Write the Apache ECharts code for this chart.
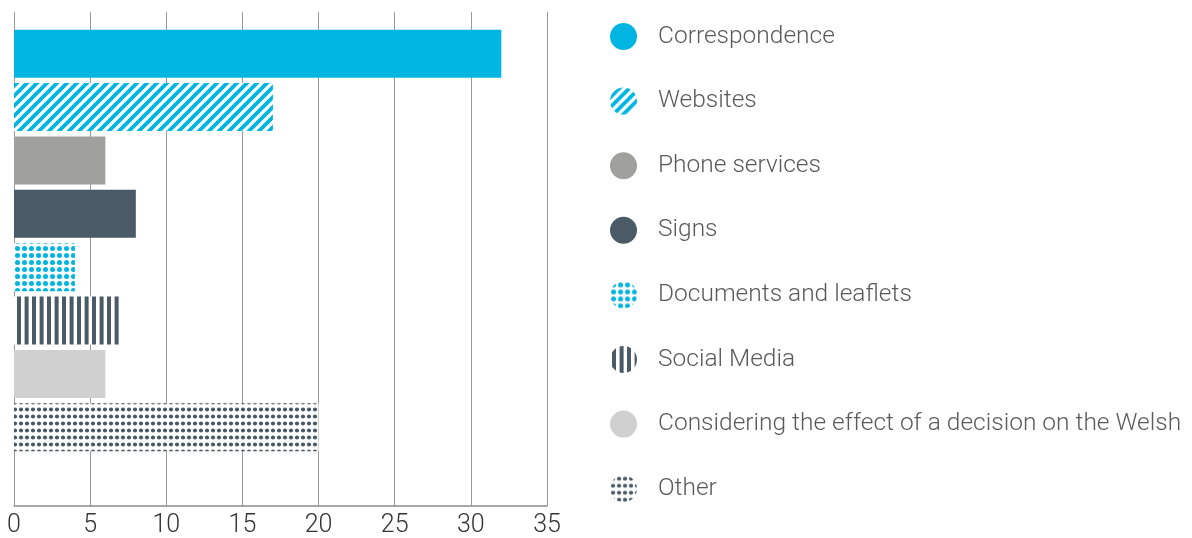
<!DOCTYPE html>
<html>
<head>
<meta charset="utf-8">
<script src="https://cdn.jsdelivr.net/npm/echarts@6/dist/echarts.min.js"></script>
<style>
    html, body { margin: 0; padding: 0; background: #fff; }
    #chart { width: 1192px; height: 538px; }
</style>
</head>
<body>
<div id="chart"></div>
<script>
var categories = ['Correspondence', 'Websites', 'Phone services', 'Signs', 'Documents and leaflets',
    'Social Media', 'Considering the effect of a decision on the Welsh', 'Other'];
var values = [32, 17, 6, 8, 4, 7, 6, 20];
var xTicks = [0, 5, 10, 15, 20, 25, 30, 35];

var CYAN = '#00b5e2';
var GREY = '#a0a09f';
var DARK = '#4a5a66';
var LIGHT = '#d0d0d0';

// small canvas tiles used as pattern fills
function makeTile(w, h, draw) {
    var c = document.createElement('canvas');
    c.width = w;
    c.height = h;
    var ctx = c.getContext('2d');
    ctx.fillStyle = '#fff';
    ctx.fillRect(0, 0, w, h);
    draw(ctx, w, h);
    return {image: c, repeat: 'repeat'};
}

var stripes = makeTile(10, 10, function (ctx, w, h) {
    ctx.strokeStyle = CYAN;
    ctx.lineWidth = 3.8;
    ctx.beginPath();
    for (var k = -1; k <= 1; k++) {
        ctx.moveTo(k * w - 2, h + 2);
        ctx.lineTo(k * w + w + 2, -2);
    }
    ctx.stroke();
});

var cyanDots = makeTile(7, 7, function (ctx) {
    ctx.fillStyle = CYAN;
    ctx.beginPath();
    ctx.arc(3.5, 3.5, 2.5, 0, Math.PI * 2);
    ctx.fill();
});

var bars = makeTile(15, 4, function (ctx) {
    ctx.fillStyle = DARK;
    ctx.fillRect(2, 0, 4, 4);
    ctx.fillRect(9.6, 0, 4, 4);
});

var darkDots = makeTile(6, 7, function (ctx) {
    ctx.fillStyle = DARK;
    ctx.beginPath();
    ctx.arc(3, 3.5, 2.1, 0, Math.PI * 2);
    ctx.fill();
});

var fills = [CYAN, stripes, GREY, DARK, cyanDots, bars, LIGHT, darkDots];

var series = categories.map(function (name, i) {
    var data = categories.map(function (c, j) {
        return j === i ? values[i] : null;
    });
    return {
        name: name,
        type: 'bar',
        stack: 'all',
        xAxisIndex: 1,
        yAxisIndex: 1,
        barWidth: 48,
        itemStyle: {color: fills[i]},
        data: data
    };
});

var chart = echarts.init(document.getElementById('chart'));
chart.setOption({
    animation: false,
    textStyle: {fontFamily: 'Roboto'},
    grid: [
        {left: 14, right: 645, top: 12, bottom: 31},
        {left: 14, right: 645, top: 27, bottom: 84}
    ],
    legend: {
        orient: 'vertical',
        left: 605,
        top: 18,
        icon: 'circle',
        itemWidth: 27,
        itemHeight: 27,
        itemGap: 37.6,
        selectedMode: false,
        textStyle: {
            fontSize: 24.5,
            fontWeight: 300,
            color: '#5a5a5a',
            padding: [0, 0, 0, 16]
        },
        data: categories
    },
    xAxis: [
        {
            gridIndex: 0,
            type: 'value',
            min: 0,
            max: 35,
            interval: 5,
            axisLine: {show: true, lineStyle: {color: '#8a8a8a', width: 1.5}},
            axisTick: {show: false},
            axisLabel: {
                margin: 7,
                fontSize: 25,
                fontWeight: 300,
                color: '#333',
                formatter: function (v) {
                    return xTicks.indexOf(v) >= 0 ? String(v) : '';
                }
            },
            splitLine: {show: true, lineStyle: {color: '#9a9a9a', width: 1}}
        },
        {
            gridIndex: 1,
            type: 'value',
            min: 0,
            max: 35,
            show: false,
            splitLine: {show: false}
        }
    ],
    yAxis: [
        {
            gridIndex: 0,
            type: 'category',
            data: [''],
            show: false
        },
        {
            gridIndex: 1,
            type: 'category',
            inverse: true,
            data: categories,
            show: false
        }
    ],
    series: series
});
</script>
</body>
</html>
